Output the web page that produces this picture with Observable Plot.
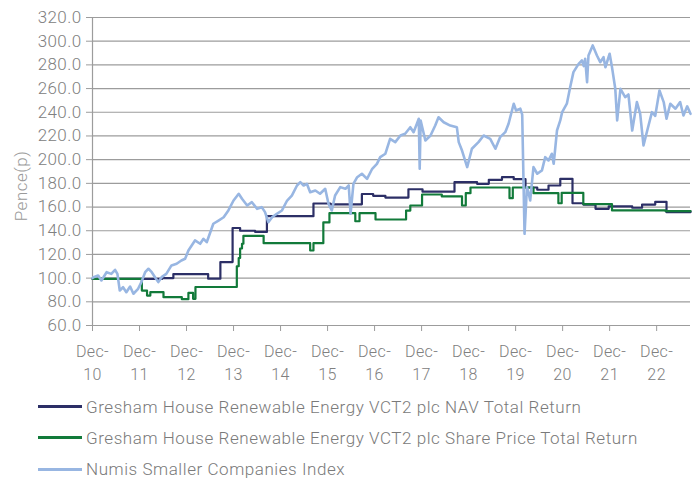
<!DOCTYPE html>
<html>
<head>
<meta charset="utf-8">
<script src="https://cdn.jsdelivr.net/npm/d3@7"></script>
<script src="https://cdn.jsdelivr.net/npm/@observablehq/plot@0.6"></script>
<style>
  body { margin: 0; background: #fff; font-family: Roboto, "Noto Sans", sans-serif; }
  #wrap { position: relative; width: 699px; height: 484px; }
  #legend { position: absolute; left: 38px; top: 391px; }
  .row { display: flex; align-items: center; height: 31.3px; }
  .sw { width: 44px; height: 3px; margin-right: 4px; }
  .lab { font-size: 17px; color: #7a7a7a; letter-spacing: 0.56px; white-space: nowrap; font-weight: 300; }
  #ylab { position: absolute; left: 21px; top: 186px; transform: translate(-50%, -50%) rotate(-90deg); font-size: 17px; color: #9a9a9a; letter-spacing: 0.5px; white-space: nowrap; font-weight: 300; }
</style>
</head>
<body>
<div id="wrap"><div id="chart"></div><div id="ylab">Pence(p)</div><div id="legend"></div></div>
<script>
// ---- data (decimal-year positions) ----
const seriesNames = [
  "Gresham House Renewable Energy VCT2 plc NAV Total Return",
  "Gresham House Renewable Energy VCT2 plc Share Price Total Return",
  "Numis Smaller Companies Index"
];
const seriesColors = ["#2c2f66", "#127a3a", "#98b6e2"];

const yTicks = [60, 80, 100, 120, 140, 160, 180, 200, 220, 240, 260, 280, 300, 320];
const xTicks = [2010.97, 2011.97, 2012.97, 2013.97, 2014.97, 2015.97, 2016.97, 2017.97, 2018.97, 2019.97, 2020.97, 2021.97, 2022.97];
const xLabels = ["Dec-\n10", "Dec-\n11", "Dec-\n12", "Dec-\n13", "Dec-\n14", "Dec-\n15", "Dec-\n16", "Dec-\n17", "Dec-\n18", "Dec-\n19", "Dec-\n20", "Dec-\n21", "Dec-\n22"];
const xDomain = [2010.97, 2023.69];

// NAV total return (step series: value from each date onwards)
const navT = [2010.97, 2012.45, 2012.69, 2013.43, 2013.69, 2013.95, 2014.11, 2014.43, 2014.68, 2015.67, 2016.03, 2016.70, 2016.94, 2017.20, 2017.69, 2017.99, 2018.67, 2019.15, 2019.40, 2019.68, 2019.93, 2020.18, 2020.43, 2020.67, 2020.92, 2021.18, 2021.41, 2021.67, 2021.95, 2022.45, 2022.66, 2022.94, 2023.18, 2023.69];
const navV = [99.3, 100.0, 103.4, 99.5, 113.5, 142.3, 140.0, 139.0, 152.3, 163.0, 162.3, 171.0, 169.5, 168.0, 175.0, 173.0, 181.0, 179.6, 183.0, 185.2, 183.5, 176.5, 174.6, 178.2, 183.8, 163.2, 162.1, 158.5, 160.5, 159.4, 162.1, 164.4, 155.7, 156.3];

// Share price total return (step series)
const shareT = [2010.97, 2012.02, 2012.13, 2012.20, 2012.48, 2012.87, 2013.01, 2013.11, 2013.16, 2014.04, 2014.08, 2014.11, 2014.15, 2014.18, 2014.61, 2015.60, 2015.67, 2015.88, 2016.01, 2016.56, 2016.65, 2016.99, 2017.64, 2017.73, 2017.98, 2018.40, 2018.83, 2018.91, 2019.01, 2019.84, 2019.91, 2020.35, 2020.88, 2020.95, 2021.41, 2022.02, 2023.16, 2023.69];
const shareV = [99.4, 89.5, 85.3, 88.1, 83.9, 82.2, 87.5, 82.5, 92.5, 110.0, 117.0, 125.0, 129.0, 135.7, 129.5, 123.3, 129.5, 147.0, 154.8, 148.0, 154.8, 149.5, 157.0, 161.3, 170.6, 169.0, 161.3, 171.7, 176.5, 167.5, 176.5, 171.7, 163.2, 172.0, 162.5, 157.1, 156.5, 156.5];

// Numis Smaller Companies Index
const numisT = [2010.97, 2010.99, 2011.09, 2011.16, 2011.27, 2011.37, 2011.45, 2011.50, 2011.55, 2011.62, 2011.69, 2011.77, 2011.84, 2011.94, 2012.01, 2012.09, 2012.16, 2012.23, 2012.30, 2012.37, 2012.44, 2012.54, 2012.65, 2012.76, 2012.86, 2012.94, 2013.01, 2013.15, 2013.26, 2013.33, 2013.40, 2013.54, 2013.65, 2013.76, 2013.86, 2013.97, 2014.08, 2014.15, 2014.26, 2014.36, 2014.47, 2014.57, 2014.64, 2014.71, 2014.79, 2014.89, 2015.00, 2015.11, 2015.21, 2015.32, 2015.39, 2015.46, 2015.53, 2015.60, 2015.71, 2015.81, 2015.92, 2015.99, 2016.06, 2016.13, 2016.24, 2016.35, 2016.42, 2016.46, 2016.52, 2016.60, 2016.70, 2016.81, 2016.92, 2017.02, 2017.09, 2017.20, 2017.30, 2017.41, 2017.52, 2017.62, 2017.73, 2017.80, 2017.87, 2017.91, 2017.93, 2017.95, 2018.05, 2018.16, 2018.26, 2018.33, 2018.44, 2018.58, 2018.72, 2018.76, 2018.83, 2018.94, 2019.04, 2019.18, 2019.29, 2019.43, 2019.54, 2019.64, 2019.75, 2019.82, 2019.93, 2019.98, 2020.07, 2020.11, 2020.16, 2020.21, 2020.25, 2020.28, 2020.35, 2020.43, 2020.53, 2020.60, 2020.67, 2020.74, 2020.78, 2020.85, 2020.92, 2020.96, 2021.06, 2021.13, 2021.20, 2021.31, 2021.38, 2021.42, 2021.45, 2021.49, 2021.52, 2021.61, 2021.70, 2021.77, 2021.84, 2021.88, 2021.97, 2022.02, 2022.09, 2022.13, 2022.20, 2022.30, 2022.37, 2022.45, 2022.55, 2022.62, 2022.69, 2022.77, 2022.87, 2022.94, 2023.03, 2023.12, 2023.18, 2023.26, 2023.37, 2023.47, 2023.54, 2023.62, 2023.69];
const numisV = [100.0, 100.8, 102.2, 98.0, 105.0, 103.6, 107.0, 103.6, 89.5, 92.3, 88.1, 92.9, 86.8, 91.0, 96.6, 105.0, 107.9, 105.0, 100.8, 96.6, 100.8, 103.6, 110.7, 112.1, 114.9, 116.3, 123.3, 131.8, 129.0, 133.2, 130.3, 145.9, 148.6, 151.4, 157.1, 165.5, 171.2, 167.0, 161.3, 164.1, 158.5, 159.9, 155.7, 147.2, 151.4, 154.3, 157.1, 165.5, 169.7, 178.2, 181.0, 178.2, 179.6, 172.5, 174.0, 171.2, 175.4, 162.7, 157.1, 169.7, 176.8, 175.4, 178.2, 154.3, 179.6, 185.2, 188.1, 183.8, 192.3, 196.5, 202.1, 205.0, 217.6, 214.8, 220.4, 221.9, 227.4, 223.2, 230.3, 234.5, 192.3, 233.1, 216.2, 220.4, 228.8, 235.8, 231.6, 228.8, 227.4, 214.8, 207.7, 193.7, 209.2, 214.8, 220.4, 217.6, 209.2, 219.0, 223.2, 230.3, 247.2, 241.5, 243.0, 238.0, 137.4, 176.8, 171.2, 165.5, 193.7, 188.1, 190.9, 202.1, 199.3, 205.0, 196.5, 224.6, 233.1, 240.1, 247.2, 261.2, 273.9, 280.9, 283.7, 279.0, 285.1, 265.4, 287.9, 296.4, 287.9, 282.3, 286.5, 278.0, 289.4, 278.1, 259.8, 233.1, 259.8, 252.7, 255.0, 224.6, 248.6, 238.7, 212.0, 224.6, 240.1, 237.0, 258.4, 248.6, 234.5, 247.2, 243.0, 248.6, 237.3, 245.0, 238.7];

// ---- build tables ----
const nav = navT.map((t, i) => ({t, v: navV[i]}));
const share = shareT.map((t, i) => ({t, v: shareV[i]}));
const numis = numisT.map((t, i) => ({t, v: numisV[i]}));
const labelOf = new Map(xTicks.map((d, i) => [d, xLabels[i]]));

const chart = Plot.plot({
  width: 699,
  height: 392,
  marginLeft: 92,
  marginRight: 9,
  marginTop: 17,
  marginBottom: 67,
  style: {fontFamily: "Roboto, sans-serif", background: "#fff", color: "#808080", fontWeight: 300, letterSpacing: "0.4px"},
  x: {type: "linear", domain: xDomain},
  y: {domain: [60, 320]},
  marks: [
    Plot.ruleY(yTicks, {y: d => d, stroke: "#9c9c9c", strokeWidth: 1.2}),
    Plot.ruleX([xDomain[0]], {stroke: "#9c9c9c", strokeWidth: 1.2}),
    Plot.axisY({ticks: yTicks, tickSize: 6, tickPadding: 5, tickFormat: d => d.toFixed(1), stroke: "#9c9c9c", fill: "#808080", fontSize: 17, label: null}),
    Plot.axisX({ticks: xTicks, tickSize: 6, tickPadding: 9, tickFormat: d => labelOf.get(d), lineHeight: 1.45, stroke: "#9c9c9c", fill: "#808080", fontSize: 16, label: null}),
    Plot.line(nav, {x: "t", y: "v", curve: "step-after", stroke: seriesColors[0], strokeWidth: 2.2}),
    Plot.line(share, {x: "t", y: "v", curve: "step-after", stroke: seriesColors[1], strokeWidth: 2.2}),
    Plot.line(numis, {x: "t", y: "v", stroke: seriesColors[2], strokeWidth: 2.6, strokeLinejoin: "round"})
  ]
});
document.getElementById("chart").appendChild(chart);

const legend = document.getElementById("legend");
seriesNames.forEach((name, i) => {
  const row = document.createElement("div");
  row.className = "row";
  row.innerHTML = `<div class="sw" style="background:${seriesColors[i]}"></div><div class="lab">${name}</div>`;
  legend.appendChild(row);
});
</script>
</body>
</html>
